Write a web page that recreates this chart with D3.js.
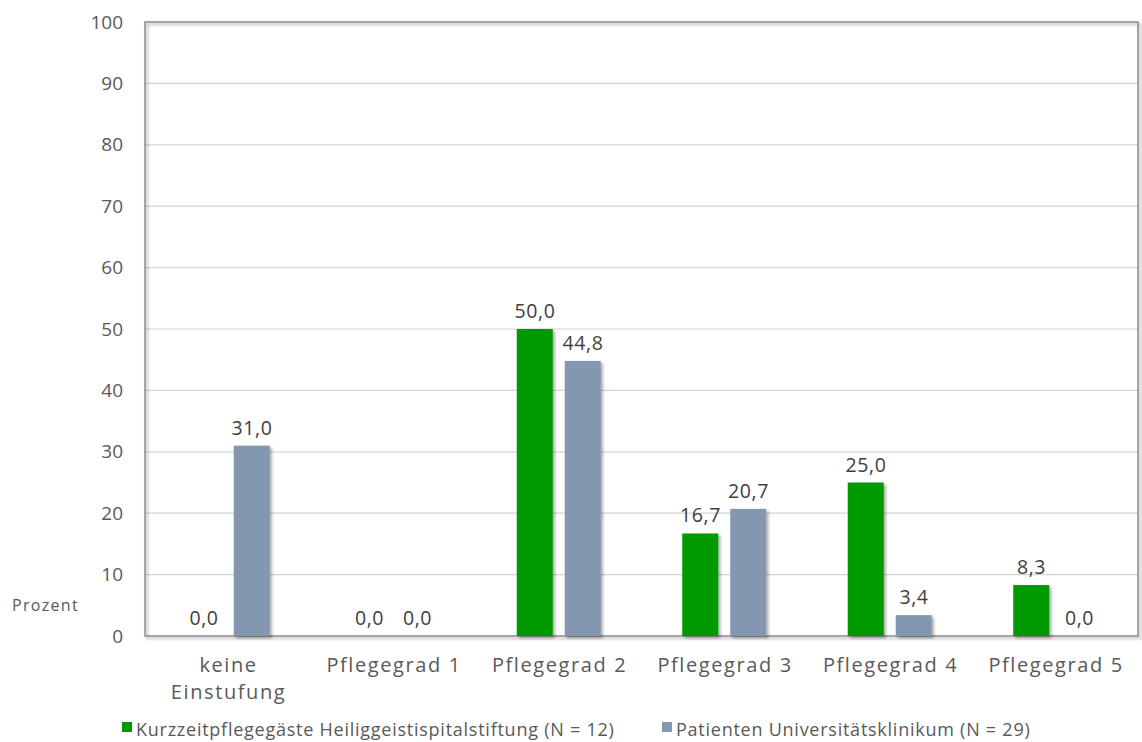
<!DOCTYPE html>
<html><head><meta charset="utf-8">
<script src="https://cdnjs.cloudflare.com/ajax/libs/d3/7.8.5/d3.min.js"></script>
<style>body{margin:0;background:#fff}svg{display:block}text{font-family:"Open Sans","DejaVu Sans",sans-serif}</style>
</head><body><svg id="c" width="1142" height="742"></svg>
<script>
const categories = [["keine","Einstufung"],["Pflegegrad 1"],["Pflegegrad 2"],["Pflegegrad 3"],["Pflegegrad 4"],["Pflegegrad 5"]];
const seriesNames = ["Kurzzeitpflegegäste Heiliggeistispitalstiftung (N = 12)","Patienten Universitätsklinikum (N = 29)"];
const kurzzeit = [0.0, 0.0, 50.0, 16.7, 25.0, 8.3];
const patienten = [31.0, 0.0, 44.8, 20.7, 3.4, 0.0];
const yTicks = [0,10,20,30,40,50,60,70,80,90,100];
const colors = ["#009900","#8497B0"];

const svg = d3.select("#c");
const L=145, R=1138, T=22, B=636;
const x = d3.scaleBand().domain(d3.range(categories.length)).range([L,R]);
const y = d3.scaleLinear().domain([0,100]).range([B,T]);
const xs = d3.scaleBand().domain([0,1]).range([-42,42]).paddingInner(0.25);

const defs = svg.append("defs");
const f = defs.append("filter").attr("id","sh").attr("x","-20%").attr("y","-20%").attr("width","150%").attr("height","150%");
f.append("feDropShadow").attr("dx",2).attr("dy",2).attr("stdDeviation",1.5).attr("flood-color","#000").attr("flood-opacity",0.35);

// grid
svg.append("g").selectAll("line").data(yTicks.filter(d=>d>0&&d<100)).join("line")
  .attr("x1",L).attr("x2",R).attr("y1",d=>y(d)).attr("y2",d=>y(d))
  .attr("stroke","#d4d4d4").attr("stroke-width",1.2);
// frame
svg.append("rect").attr("x",L).attr("y",T).attr("width",R-L).attr("height",B-T)
  .attr("fill","none").attr("stroke","#8a8a8a").attr("stroke-width",1.5).attr("filter","url(#sh)");

// y axis labels
const yAxis = d3.axisLeft(y).tickValues(yTicks).tickSize(0).tickPadding(22);
const ga = svg.append("g").attr("transform",`translate(${L},0)`).call(yAxis);
ga.select(".domain").remove();
ga.selectAll("text").attr("font-size",19).attr("fill","#595959").attr("font-family",'"Open Sans",sans-serif');

const data = [kurzzeit, patienten];
data.forEach((vals,si)=>{
  const g = svg.append("g");
  g.selectAll("rect").data(vals).join("rect")
    .attr("x",(d,i)=>x(i)+x.bandwidth()/2+xs(si))
    .attr("width",xs.bandwidth())
    .attr("y",d=>y(d)).attr("height",d=>B-y(d))
    .attr("fill",colors[si]).attr("filter","url(#sh)")
    .style("display",d=>d>0?null:"none");
  g.selectAll("text").data(vals).join("text")
    .attr("x",(d,i)=>x(i)+x.bandwidth()/2+xs(si)+xs.bandwidth()/2+0.3)
    .attr("y",d=>y(d)-11)
    .attr("text-anchor","middle").attr("font-size",19.5).attr("letter-spacing",0.6).attr("fill","#404040")
    .text(d=>d.toFixed(1).replace(".",","));
});

// category labels
const cg = svg.append("g");
categories.forEach((c,i)=>{
  c.forEach((line,j)=>{
    cg.append("text").attr("x",x(i)+x.bandwidth()/2+0.8).attr("y",672+j*27)
      .attr("text-anchor","middle").attr("font-size",20).attr("letter-spacing",1.6).attr("fill","#595959").text(line);
  });
});

svg.append("text").attr("x",12).attr("y",611).attr("font-size",16).attr("letter-spacing",1.3).attr("fill","#595959").text("Prozent");

// legend
const legX = [122, 662];
seriesNames.forEach((n,i)=>{
  svg.append("rect").attr("x",legX[i]).attr("y",722).attr("width",10).attr("height",10).attr("fill",colors[i]);
  svg.append("text").attr("x",legX[i]+14).attr("y",736).attr("font-size",18).attr("letter-spacing",0.75).attr("fill","#595959").text(n);
});
</script></body></html>
